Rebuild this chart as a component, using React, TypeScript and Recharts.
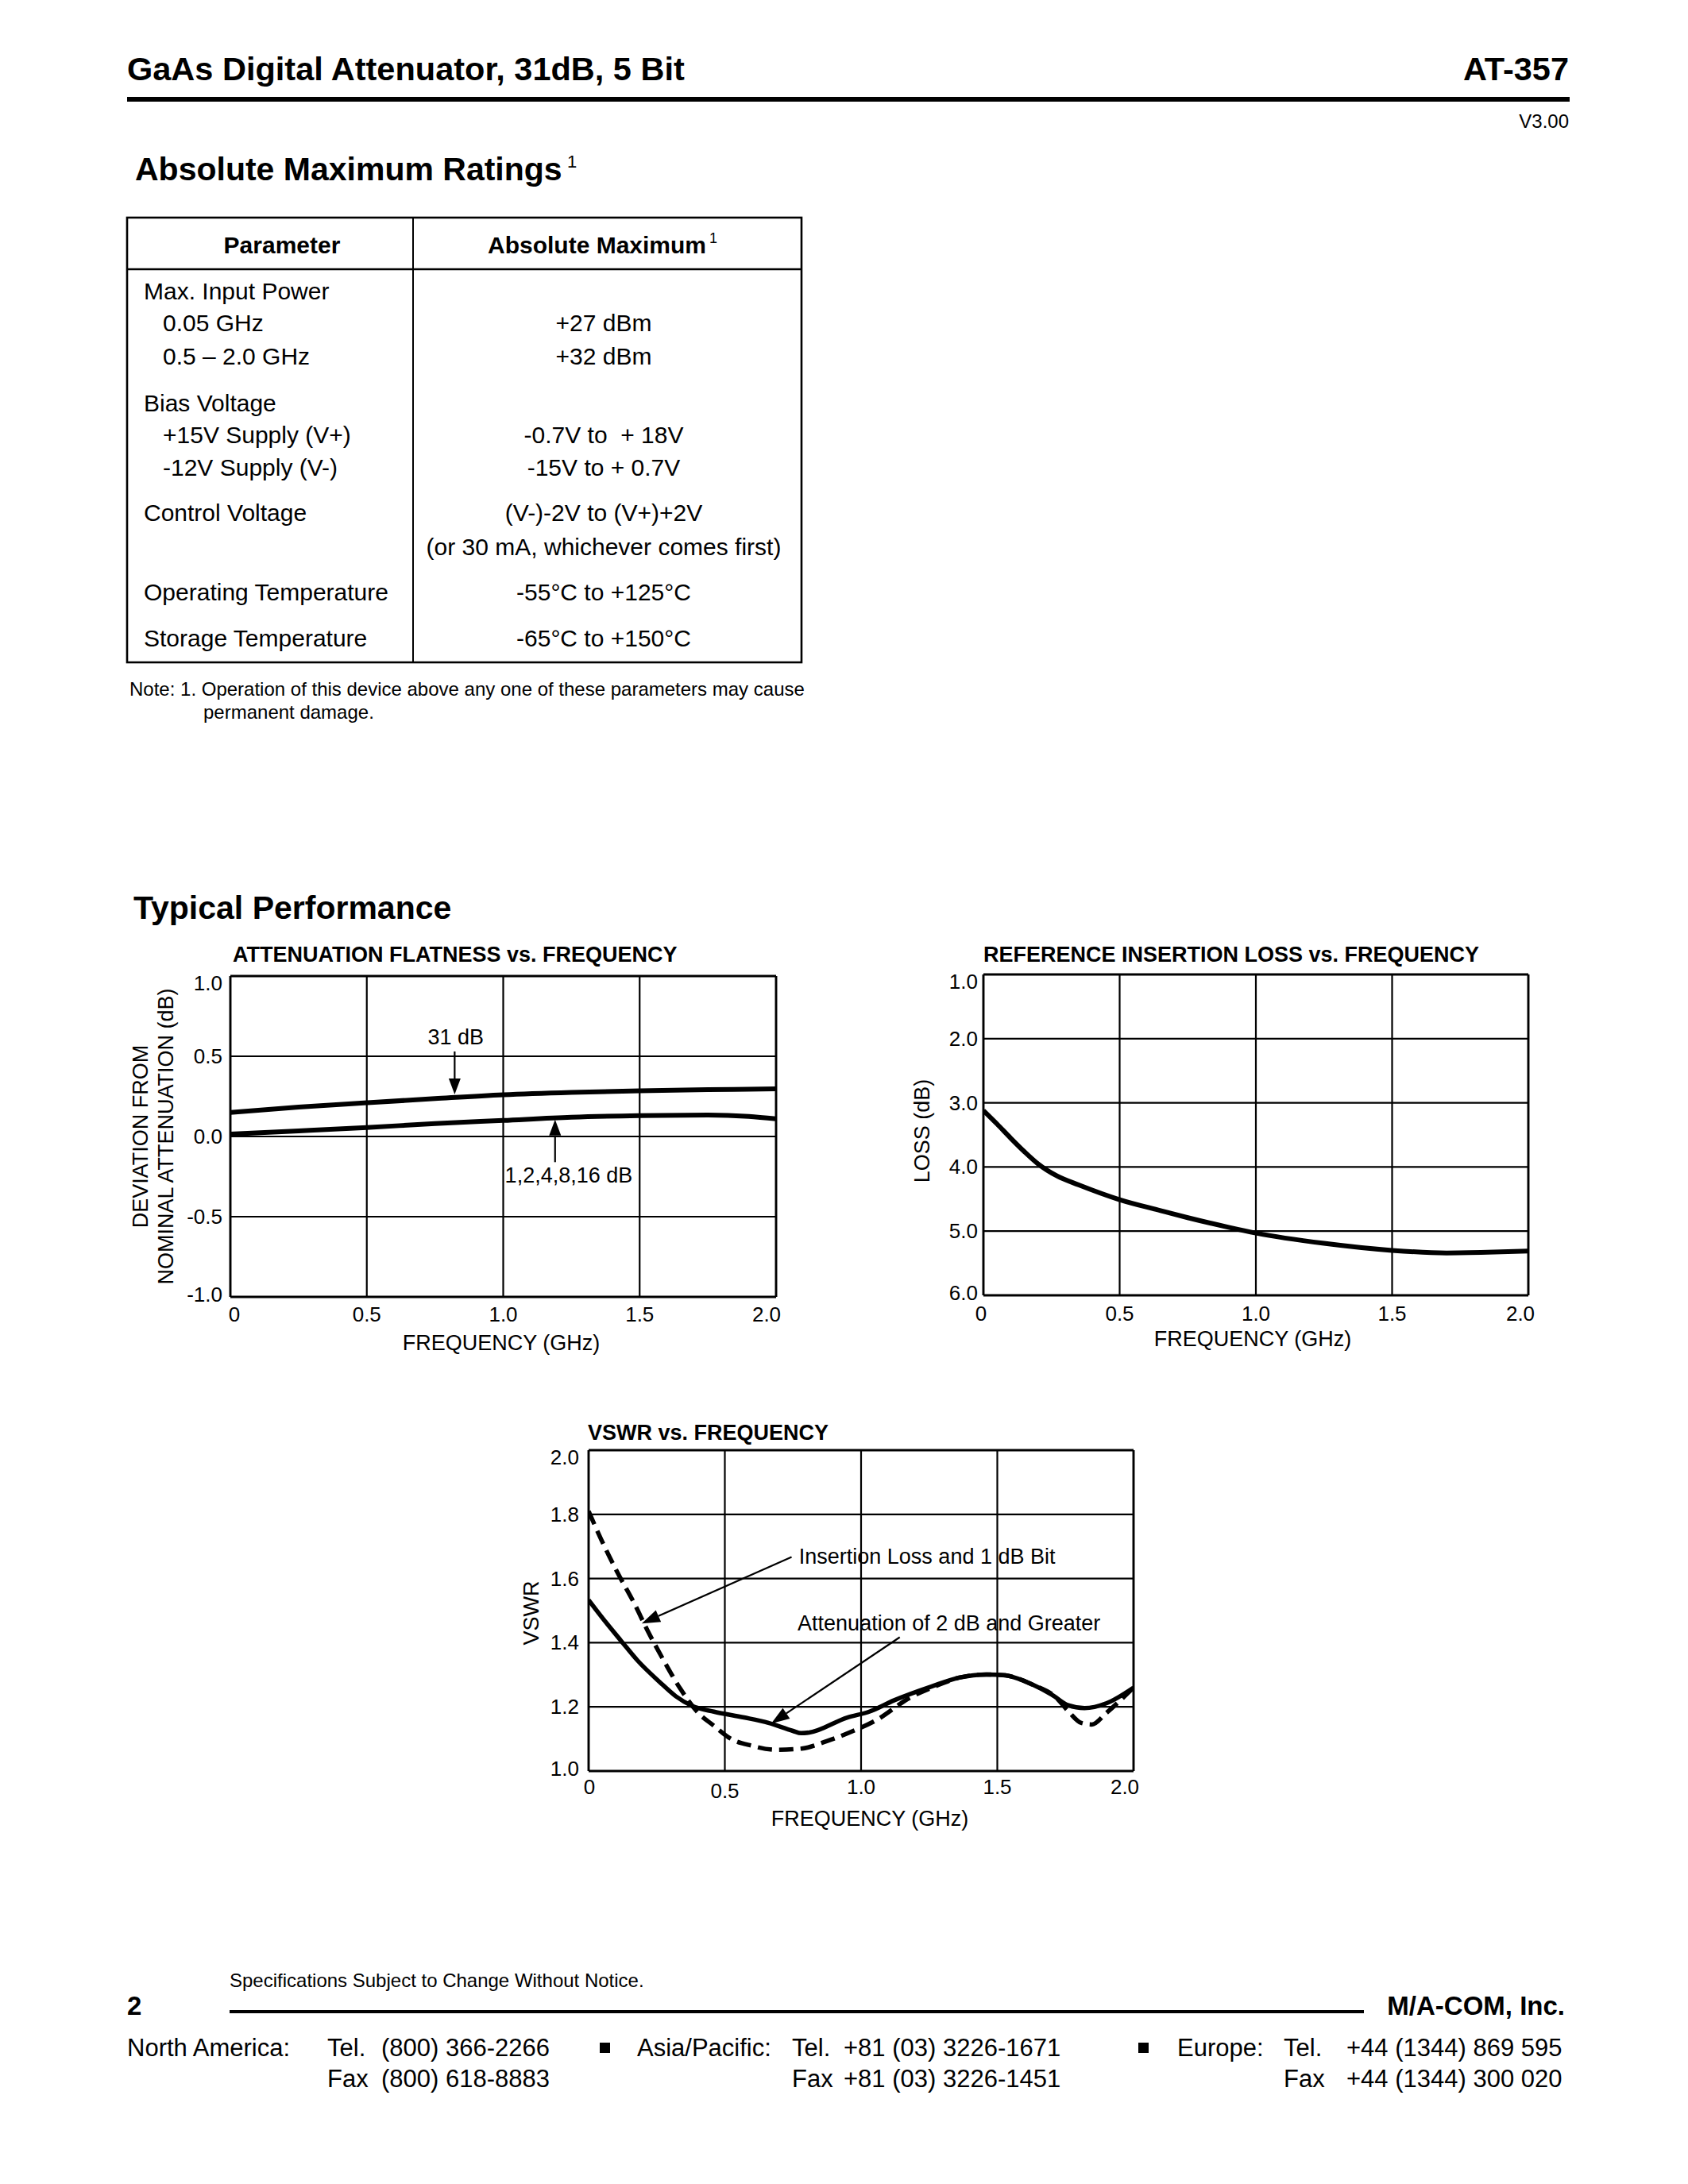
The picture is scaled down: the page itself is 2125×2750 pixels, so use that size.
import React from 'react';
import { LineChart, Line, XAxis, YAxis, CartesianGrid, ReferenceLine, ReferenceDot } from 'recharts';

const FONT = "'Liberation Sans', Arial, Helvetica, sans-serif";

// ---------- Chart 1: Attenuation flatness ----------
const flatFreq = [0, 0.25, 0.5, 0.75, 1.0, 1.25, 1.5, 1.75, 1.9, 2.0];
const flat31dB = [0.15, 0.183, 0.21, 0.236, 0.26, 0.275, 0.285, 0.292, 0.295, 0.297];
const flatLowBits = [0.015, 0.035, 0.056, 0.08, 0.1, 0.12, 0.13, 0.134, 0.125, 0.11];
const flatYTicks = [1, 0.5, 0, -0.5, -1];
const flatYLabels = ['1.0', '0.5', '0.0', '-0.5', '-1.0'];
const freqTicks = [0, 0.5, 1, 1.5, 2];
const freqLabels = ['0', '0.5', '1.0', '1.5', '2.0'];
const flatArrows = [
  { from: [0.822, 0.53], to: [0.822, 0.262] },
  { from: [1.19, -0.16], to: [1.19, 0.105] },
];
const flatNotes = [
  { f: 0.826, v: 0.62, text: '31 dB' },
  { f: 1.24, v: -0.245, text: '1,2,4,8,16 dB' },
];

// ---------- Chart 2: Reference insertion loss ----------
const lossFreq = [0, 0.05, 0.1, 0.15, 0.2, 0.27, 0.35, 0.5, 0.65, 0.75, 0.9, 1.0, 1.25, 1.5, 1.7, 1.85, 2.0];
const lossDb = [3.12, 3.33, 3.55, 3.76, 3.95, 4.14, 4.28, 4.51, 4.68, 4.79, 4.94, 5.03, 5.19, 5.3, 5.34, 5.33, 5.31];
const lossYTicks = [1, 2, 3, 4, 5, 6];
const lossYLabels = ['1.0', '2.0', '3.0', '4.0', '5.0', '6.0'];

// ---------- Chart 3: VSWR ----------
const vswrSolidFreq = [0, 0.06, 0.12, 0.18, 0.26, 0.32, 0.38, 0.46, 0.57, 0.66, 0.75, 0.78, 0.81, 0.95, 1.03, 1.12, 1.26, 1.36, 1.46, 1.53, 1.63, 1.7, 1.76, 1.82, 1.9, 2.0];
const vswrSolid = [1.533, 1.467, 1.405, 1.344, 1.278, 1.233, 1.203, 1.185, 1.167, 1.15, 1.125, 1.118, 1.12, 1.167, 1.185, 1.22, 1.264, 1.291, 1.301, 1.298, 1.269, 1.238, 1.205, 1.196, 1.211, 1.26];
const vswrDashFreq = [0, 0.046, 0.107, 0.169, 0.215, 0.276, 0.337, 0.398, 0.46, 0.521, 0.598, 0.69, 0.782, 0.874, 0.966, 1.057, 1.18, 1.272, 1.36, 1.46, 1.53, 1.63, 1.716, 1.762, 1.808, 1.847, 1.9, 2.0];
const vswrDash = [1.81, 1.722, 1.617, 1.52, 1.44, 1.344, 1.256, 1.185, 1.141, 1.101, 1.079, 1.066, 1.07, 1.093, 1.123, 1.159, 1.229, 1.264, 1.291, 1.301, 1.298, 1.269, 1.229, 1.185, 1.15, 1.145, 1.181, 1.26];
const vswrYTicks = [2.0, 1.8, 1.6, 1.4, 1.2, 1.0];
const vswrYLabels = ['2.0', '1.8', '1.6', '1.4', '1.2', '1.0'];
const vswrArrows = [
  { from: [0.745, 1.667], to: [0.195, 1.46] },
  { from: [1.142, 1.417], to: [0.67, 1.148] },
];
const vswrNotes = [
  { f: 0.772, v: 1.668, text: 'Insertion Loss and 1 dB Bit' },
  { f: 0.767, v: 1.46, text: 'Attenuation of 2 dB and Greater' },
];

const toRows = (xs: number[], ys: number[]) => xs.map((f, i) => ({ f, v: ys[i] }));

const makeYTick = (ticks: number[], labels: string[], gap: number, topVal: number, botVal: number) => (props: any) => {
  const { x, y, payload } = props;
  const v = payload.value;
  const idx = ticks.indexOf(v);
  let dy = 0;
  if (v === topVal) dy = 9;
  else if (v === botVal) dy = -3;
  return (
    <text x={x - gap} y={y + dy} textAnchor="end" dominantBaseline="central" fontSize={26} fontFamily={FONT} fill="#000">
      {idx >= 0 ? labels[idx] : String(v)}
    </text>
  );
};

const makeXTick = (offsets: Record<string, [number, number]>, baseDy: number) => (props: any) => {
  const { x, y, payload } = props;
  const v = payload.value;
  const idx = freqTicks.indexOf(v);
  const lab = idx >= 0 ? freqLabels[idx] : String(v);
  const off = offsets[lab] || [0, 0];
  return (
    <text x={x + off[0]} y={y + baseDy + off[1]} textAnchor="middle" dominantBaseline="central" fontSize={26} fontFamily={FONT} fill="#000">
      {lab}
    </text>
  );
};

const makeArrow = (hl: number, hw: number) => (props: any) => {
  const { x1, y1, x2, y2 } = props;
  const dx = x2 - x1;
  const dy = y2 - y1;
  const len = Math.hypot(dx, dy) || 1;
  const ux = dx / len;
  const uy = dy / len;
  const bx = x2 - ux * hl;
  const by = y2 - uy * hl;
  const px = -uy * hw;
  const py = ux * hw;
  return (
    <g>
      <line x1={x1} y1={y1} x2={bx} y2={by} stroke="#000" strokeWidth={2.2} />
      <polygon points={`${x2},${y2} ${bx + px},${by + py} ${bx - px},${by - py}`} fill="#000" />
    </g>
  );
};

const makeNote = (text: string, anchor: string) => (props: any) => (
  <text x={props.cx} y={props.cy} textAnchor={anchor as any} dominantBaseline="central" fontSize={27} fontFamily={FONT} fill="#000">
    {text}
  </text>
);

const GRID_W = 2.2;
const AXIS_W = 2.8;

const T = ({ x, y, children, size = 30, bold = false, anchor = 'start', rotate }: any) => (
  <text
    x={x}
    y={y}
    fontSize={size}
    fontWeight={bold ? 700 : 400}
    textAnchor={anchor}
    dominantBaseline="central"
    fontFamily={FONT}
    fill="#000"
    style={{ whiteSpace: 'pre' }}
    transform={rotate ? `rotate(${rotate} ${x} ${y})` : undefined}
  >
    {children}
  </text>
);

function Page() {
  return (
    <svg width={2125} height={2750} style={{ position: 'absolute', left: 0, top: 0 }}>
      <rect x={0} y={0} width={2125} height={2750} fill="#fff" />
      {/* Header */}
      <T x={160} y={86} size={41.5} bold>GaAs Digital Attenuator, 31dB, 5 Bit</T>
      <T x={1975} y={86} size={41.5} bold anchor="end">AT-357</T>
      <rect x={160} y={122} width={1816} height={6} fill="#000" />
      <T x={1975} y={152} size={24} anchor="end">V3.00</T>

      {/* Absolute Maximum Ratings */}
      <T x={170} y={213} size={41} bold>Absolute Maximum Ratings</T>
      <T x={714} y={203} size={22}>1</T>

      <rect x={160} y={274} width={849} height={560} fill="none" stroke="#000" strokeWidth={2.6} />
      <line x1={160} y1={339} x2={1009} y2={339} stroke="#000" strokeWidth={2.6} />
      <line x1={520} y1={274} x2={520} y2={834} stroke="#000" strokeWidth={2} />
      <T x={355} y={308} size={30} bold anchor="middle">Parameter</T>
      <T x={614} y={308} size={30} bold>Absolute Maximum</T>
      <T x={893} y={300} size={18}>1</T>

      <T x={181} y={366}>Max. Input Power</T>
      <T x={205} y={406}>0.05 GHz</T>
      <T x={205} y={448}>0.5 – 2.0 GHz</T>
      <T x={181} y={507}>Bias Voltage</T>
      <T x={205} y={547}>+15V Supply (V+)</T>
      <T x={205} y={588}>-12V Supply (V-)</T>
      <T x={181} y={645}>Control Voltage</T>
      <T x={181} y={745}>Operating Temperature</T>
      <T x={181} y={803}>Storage Temperature</T>

      <T x={760} y={406} anchor="middle">+27 dBm</T>
      <T x={760} y={448} anchor="middle">+32 dBm</T>
      <T x={760} y={547} anchor="middle">-0.7V to  + 18V</T>
      <T x={760} y={588} anchor="middle">-15V to + 0.7V</T>
      <T x={760} y={645} anchor="middle">(V-)-2V to (V+)+2V</T>
      <T x={760} y={688} anchor="middle">(or 30 mA, whichever comes first)</T>
      <T x={760} y={745} anchor="middle">-55°C to +125°C</T>
      <T x={760} y={803} anchor="middle">-65°C to +150°C</T>

      <T x={163} y={867} size={24}>Note: 1. Operation of this device above any one of these parameters may cause</T>
      <T x={256} y={896} size={24}>permanent damage.</T>

      {/* Typical performance */}
      <T x={168} y={1143} size={41} bold>Typical Performance</T>

      <T x={293} y={1202} size={27} bold>ATTENUATION FLATNESS vs. FREQUENCY</T>
      <T x={177} y={1431} size={27} anchor="middle" rotate={-90}>DEVIATION FROM</T>
      <T x={209} y={1431} size={27} anchor="middle" rotate={-90}>NOMINAL ATTENUATION (dB)</T>
      <T x={631} y={1691} size={27} anchor="middle">FREQUENCY (GHz)</T>

      <T x={1238} y={1202} size={27} bold>REFERENCE INSERTION LOSS vs. FREQUENCY</T>
      <T x={1161} y={1424} size={27} anchor="middle" rotate={-90}>LOSS (dB)</T>
      <T x={1577} y={1686} size={27} anchor="middle">FREQUENCY (GHz)</T>

      <T x={740} y={1804} size={27} bold>VSWR vs. FREQUENCY</T>
      <T x={669} y={2031} size={27} anchor="middle" rotate={-90}>VSWR</T>
      <T x={1095} y={2290} size={27} anchor="middle">FREQUENCY (GHz)</T>

      {/* Footer */}
      <T x={289} y={2493} size={24}>Specifications Subject to Change Without Notice.</T>
      <T x={160} y={2525} size={33} bold>2</T>
      <rect x={289} y={2531} width={1428} height={4} fill="#000" />
      <T x={1970} y={2525} size={33} bold anchor="end">M/A-COM, Inc.</T>

      <T x={160} y={2578} size={31}>North America:</T>
      <T x={412} y={2578} size={31}>Tel.</T>
      <T x={480} y={2578} size={31}>(800) 366-2266</T>
      <T x={412} y={2617} size={31}>Fax</T>
      <T x={480} y={2617} size={31}>(800) 618-8883</T>

      <rect x={755} y={2572} width={13} height={13} fill="#000" />
      <T x={802} y={2578} size={31}>Asia/Pacific:</T>
      <T x={997} y={2578} size={31}>Tel.</T>
      <T x={1062} y={2578} size={31}>+81 (03) 3226-1671</T>
      <T x={997} y={2617} size={31}>Fax</T>
      <T x={1062} y={2617} size={31}>+81 (03) 3226-1451</T>

      <rect x={1433} y={2572} width={13} height={13} fill="#000" />
      <T x={1482} y={2578} size={31}>Europe:</T>
      <T x={1616} y={2578} size={31}>Tel.</T>
      <T x={1695} y={2578} size={31}>+44 (1344) 869 595</T>
      <T x={1616} y={2617} size={31}>Fax</T>
      <T x={1695} y={2617} size={31}>+44 (1344) 300 020</T>
    </svg>
  );
}

const chartMargin = { top: 10, right: 24, bottom: 6, left: 0 };

function FlatnessChart() {
  const d31 = toRows(flatFreq, flat31dB);
  const dLow = toRows(flatFreq, flatLowBits);
  return (
    <div style={{ position: 'absolute', left: 200, top: 1219 }}>
      <LineChart width={800} height={460} margin={{ ...chartMargin, right: 23 }}>
        <CartesianGrid stroke="#000" strokeWidth={GRID_W} />
        <XAxis type="number" dataKey="f" domain={[0, 2]} ticks={freqTicks} allowDataOverflow height={40}
          tickSize={0} tickMargin={0} tickLine={false} axisLine={{ stroke: '#000', strokeWidth: AXIS_W }}
          tick={makeXTick({ '0': [5, 0], '2.0': [-12, 0] }, 22)} interval={0} />
        <YAxis type="number" domain={[-1, 1]} ticks={flatYTicks} allowDataOverflow width={90}
          tickSize={0} tickMargin={0} tickLine={false} axisLine={{ stroke: '#000', strokeWidth: AXIS_W }}
          tick={makeYTick(flatYTicks, flatYLabels, 10, 1, -1)} interval={0} />
        <ReferenceLine y={1} stroke="#000" strokeWidth={AXIS_W} />
        <ReferenceLine x={2} stroke="#000" strokeWidth={AXIS_W} />
        <Line data={d31} dataKey="v" name="31 dB" type="monotone" stroke="#000" strokeWidth={6} dot={false} isAnimationActive={false} />
        <Line data={dLow} dataKey="v" name="1,2,4,8,16 dB" type="monotone" stroke="#000" strokeWidth={6} dot={false} isAnimationActive={false} />
        {flatArrows.map((a, i) => (
          <ReferenceLine key={'a' + i} segment={[{ x: a.from[0], y: a.from[1] }, { x: a.to[0], y: a.to[1] }]} shape={makeArrow(20, 7.5)} />
        ))}
        {flatNotes.map((n, i) => (
          <ReferenceDot key={'n' + i} x={n.f} y={n.v} r={0} shape={makeNote(n.text, 'middle')} />
        ))}
      </LineChart>
    </div>
  );
}

function LossChart() {
  const d = toRows(lossFreq, lossDb);
  return (
    <div style={{ position: 'absolute', left: 1148, top: 1217 }}>
      <LineChart width={800} height={460} margin={chartMargin}>
        <CartesianGrid stroke="#000" strokeWidth={GRID_W} />
        <XAxis type="number" dataKey="f" domain={[0, 2]} ticks={freqTicks} allowDataOverflow height={40}
          tickSize={0} tickMargin={0} tickLine={false} axisLine={{ stroke: '#000', strokeWidth: AXIS_W }}
          tick={makeXTick({ '0': [-3, 0], '2.0': [-10, 0] }, 23)} interval={0} />
        <YAxis type="number" domain={[1, 6]} reversed ticks={lossYTicks} allowDataOverflow width={90}
          tickSize={0} tickMargin={0} tickLine={false} axisLine={{ stroke: '#000', strokeWidth: AXIS_W }}
          tick={makeYTick(lossYTicks, lossYLabels, 7, 1, 6)} interval={0} />
        <ReferenceLine y={1} stroke="#000" strokeWidth={AXIS_W} />
        <ReferenceLine x={2} stroke="#000" strokeWidth={AXIS_W} />
        <Line data={d} dataKey="v" name="Loss" type="monotone" stroke="#000" strokeWidth={6} dot={false} isAnimationActive={false} />
      </LineChart>
    </div>
  );
}

function VswrChart() {
  const dSolid = toRows(vswrSolidFreq, vswrSolid);
  const dDash = toRows(vswrDashFreq, vswrDash);
  return (
    <div style={{ position: 'absolute', left: 651, top: 1816 }}>
      <LineChart width={800} height={460} margin={chartMargin}>
        <CartesianGrid stroke="#000" strokeWidth={GRID_W} />
        <XAxis type="number" dataKey="f" domain={[0, 2]} ticks={freqTicks} allowDataOverflow height={40}
          tickSize={0} tickMargin={0} tickLine={false} axisLine={{ stroke: '#000', strokeWidth: AXIS_W }}
          tick={makeXTick({ '0': [1, 0], '0.5': [0, 5], '2.0': [-11, 0] }, 20)} interval={0} />
        <YAxis type="number" domain={[1, 2]} ticks={vswrYTicks} allowDataOverflow width={90}
          tickSize={0} tickMargin={0} tickLine={false} axisLine={{ stroke: '#000', strokeWidth: AXIS_W }}
          tick={makeYTick(vswrYTicks, vswrYLabels, 12, 2, 1)} interval={0} />
        <ReferenceLine y={2} stroke="#000" strokeWidth={AXIS_W} />
        <ReferenceLine x={2} stroke="#000" strokeWidth={AXIS_W} />
        <Line data={dDash} dataKey="v" name="Insertion Loss and 1 dB Bit" type="monotone" stroke="#000" strokeWidth={5.5} strokeDasharray="18 9" dot={false} isAnimationActive={false} />
        <Line data={dSolid} dataKey="v" name="Attenuation of 2 dB and Greater" type="monotone" stroke="#000" strokeWidth={5.5} dot={false} isAnimationActive={false} />
        {vswrArrows.map((a, i) => (
          <ReferenceLine key={'a' + i} segment={[{ x: a.from[0], y: a.from[1] }, { x: a.to[0], y: a.to[1] }]} shape={makeArrow(23, 8)} />
        ))}
        {vswrNotes.map((n, i) => (
          <ReferenceDot key={'n' + i} x={n.f} y={n.v} r={0} shape={makeNote(n.text, 'start')} />
        ))}
      </LineChart>
    </div>
  );
}

export default function App() {
  return (
    <div style={{ position: 'absolute', left: 0, top: 0, width: 2125, height: 2750, background: '#fff', fontFamily: FONT }}>
      <Page />
      <FlatnessChart />
      <LossChart />
      <VswrChart />
    </div>
  );
}
